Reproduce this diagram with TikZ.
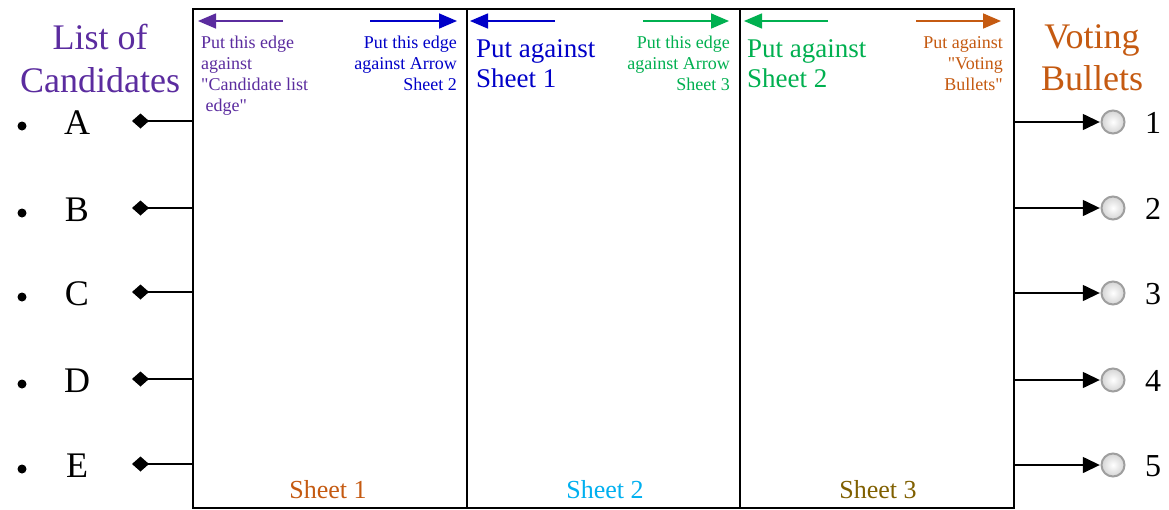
\documentclass[tikz,border=0pt]{standalone}
\usepackage{fontspec}
\setmainfont{Liberation Serif}
\newfontfamily\qfont{Liberation Serif}
\usetikzlibrary{arrows.meta,shapes.geometric}
\definecolor{cpurple}{HTML}{5B2C9F}
\definecolor{corange}{HTML}{C55A11}
\definecolor{cblue}{HTML}{0000C8}
\definecolor{cgreen}{HTML}{00B050}
\definecolor{ccyan}{HTML}{00B0F0}
\definecolor{colive}{HTML}{806000}
\newcommand{\fs}[2]{\fontsize{#1}{#2}\selectfont}
\newcommand{\qd}{{\qfont"}}
\tikzset{
  sheetbox/.style={draw=black, line width=1.6pt, inner sep=0pt},
  topar/.style={line width=1.6pt, -{Triangle[length=18pt,width=15pt]}},
  smalltxt/.style={inner sep=0pt, font=\fs{18}{21}},
  bigtxt/.style={inner sep=0pt, font=\fs{27}{30}, align=left, anchor=base west},
  headtxt/.style={inner sep=0pt, font=\fs{36}{43}, align=center},
  cand/.style={inner sep=0pt, font=\fs{36}{40}, anchor=base},
  numtxt/.style={inner sep=0pt, font=\fs{32}{36}, anchor=base west},
  leftcon/.style={line width=1.6pt, {Diamond[length=17pt,width=15pt]}-},
  rightcon/.style={line width=1.4pt, -{Triangle[length=17pt,width=16pt]}},
  sheetlbl/.style={inner sep=0pt, font=\fs{26}{30}, anchor=base},
}
\begin{document}
\begin{tikzpicture}[x=1pt,y=-1pt]
\useasboundingbox (0,0) rectangle (1169,509);
\fill[white] (0,0) rectangle (1169,509);
% sheets
\node[sheetbox, minimum width=274pt, minimum height=499pt, anchor=north west] (s1) at (192,8) {};
\node[sheetbox, minimum width=273pt, minimum height=499pt, anchor=north west] (s2) at (466,8) {};
\node[sheetbox, minimum width=274pt, minimum height=499pt, anchor=north west] (s3) at (739,8) {};
% top arrows
\coordinate (a1l) at (283,21); \coordinate (a1la) at (198,21);
\coordinate (a1r) at (370,21); \coordinate (a1ra) at (457,21);
\coordinate (a2l) at (555,21); \coordinate (a2la) at (470,21);
\coordinate (a2r) at (643,21); \coordinate (a2ra) at (729,21);
\coordinate (a3l) at (828,21); \coordinate (a3la) at (744,21);
\coordinate (a3r) at (916,21); \coordinate (a3ra) at (1001,21);
\draw[topar, cpurple] (a1l) -- (a1la);
\draw[topar, cblue] (a1r) -- (a1ra);
\draw[topar, cblue] (a2l) -- (a2la);
\draw[topar, cgreen] (a2r) -- (a2ra);
\draw[topar, cgreen] (a3l) -- (a3la);
\draw[topar, corange] (a3r) -- (a3ra);
% top texts
\node[smalltxt, cpurple, align=left, anchor=north west] (t1l) at (201,36) {Put this edge\\against\\\qd Candidate list\\\ edge\qd};
\node[smalltxt, cblue, align=right, anchor=north east] (t1r) at (457,36) {Put this edge\\against Arrow\\Sheet 2};
\node[bigtxt, cblue] (t2l) at (476,87) {Put against\\Sheet 1};
\node[smalltxt, cgreen, align=right, anchor=north east] (t2r) at (730,36) {Put this edge\\against Arrow\\Sheet 3};
\node[bigtxt, cgreen] (t3l) at (747,87) {Put against\\Sheet 2};
\node[smalltxt, corange, align=right, anchor=north east] (t3r) at (1003,36) {Put against\\\qd Voting\\Bullets\qd};
% bottom labels
\node[sheetlbl, corange] (l1) at (328,498) {Sheet 1};
\node[sheetlbl, ccyan] (l2) at (605,498) {Sheet 2};
\node[sheetlbl, colive] (l3) at (878,498) {Sheet 3};
% headers
\node[headtxt, cpurple, anchor=base] (h1) at (100,92) {List of\\Candidates};
\node[headtxt, corange, anchor=base, font=\fs{36}{42}] (h2) at (1092,90) {Voting\\Bullets};
% candidates
\foreach \n/\l/\y in {1/A/121,2/B/208,3/C/292,4/D/379,5/E/464}{
  \fill (22,\y+5) circle (4.5pt);
  \node[cand] (c\n) at (77,\y+13) {\l};
  \coordinate (d\n) at (132,\y);
  \draw[leftcon] (d\n) -- (s1.west |- d\n);
}
% bullets
\foreach \n/\y in {1/122,2/208,3/293,4/380,5/465}{
  \coordinate (r\n) at (1013,\y);
  \node[circle, minimum size=26pt, inner sep=0pt] (o\n) at (1113,\y) {};
  \shade[inner color=white, outer color=gray!35] (o\n.center) circle (12pt);
  \draw[gray!75, line width=2pt] (o\n.center) circle (11.5pt);
  \draw[rightcon] (r\n) -- (o\n.west);
  \node[numtxt] (n\n) at (1145,\y+11) {\n};
}
\end{tikzpicture}
\end{document}
